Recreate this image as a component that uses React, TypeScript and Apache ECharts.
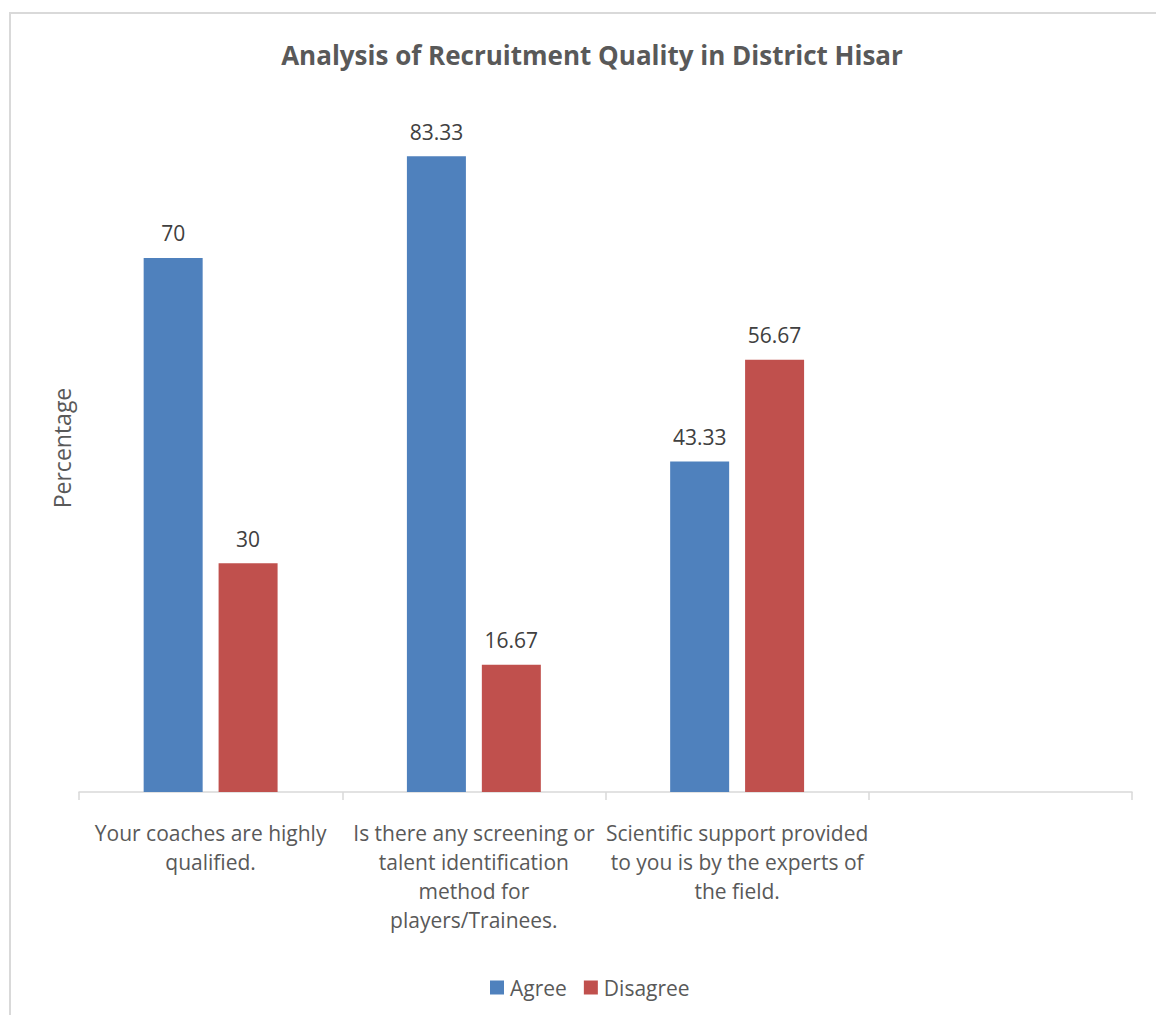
import React, { useEffect, useRef } from "react";
import * as echarts from "echarts";

const categories = [
  "Your coaches are highly\nqualified.",
  "Is there any screening or\ntalent identification\nmethod for\nplayers/Trainees.",
  "Scientific support provided\nto you is by the experts of\nthe field.",
  "",
];
const agreeValues = [70, 83.33, 43.33, null];
const disagreeValues = [30, 16.67, 56.67, null];
const seriesNames = ["Agree", "Disagree"];
const titleText = "Analysis of Recruitment Quality in District Hisar";
const yAxisTitle = "Percentage";

const FONT = "'Open Sans', 'Noto Sans', sans-serif";

export default function App() {
  const ref = useRef<HTMLDivElement>(null);
  useEffect(() => {
    if (!ref.current) return;
    const chart = echarts.init(ref.current, null, { renderer: "svg" });
    const label = {
      show: true,
      position: "top",
      distance: 14,
      color: "#404040",
      fontSize: 21,
      fontFamily: FONT,
      formatter: (p: any) => String(p.value),
    };
    chart.setOption({
      animation: false,
      backgroundColor: "#ffffff",
      textStyle: { fontFamily: FONT },
      title: {
        text: titleText,
        left: 587,
        top: 37,
        textAlign: "center",
        textStyle: { fontFamily: FONT, fontSize: 26, fontWeight: "bold", color: "#595959" },
      },
      graphic: [
        {
          type: "rect",
          shape: { x: 10, y: 13, width: 1200, height: 1100 },
          style: { fill: "none", stroke: "#D9D9D9", lineWidth: 2 },
          silent: true,
          z: -1,
        },
        {
          type: "text",
          x: 62,
          y: 448,
          rotation: Math.PI / 2,
          style: {
            text: yAxisTitle,
            fontFamily: FONT,
            fontSize: 23,
            fill: "#595959",
            align: "center",
            verticalAlign: "middle",
          },
        },
      ],
      legend: {
        data: seriesNames,
        left: 485,
        top: 972,
        orient: "horizontal",
        itemWidth: 14,
        itemHeight: 14,
        itemGap: 17,
        icon: "rect",
        textStyle: { fontFamily: FONT, fontSize: 21, color: "#595959", padding: [0, 0, 0, 1] },
      },
      grid: { left: 79, right: 24, top: 105.4, bottom: 1015 - 792, containLabel: false },
      xAxis: {
        type: "category",
        data: categories,
        axisLine: { show: true, lineStyle: { color: "#D9D9D9", width: 1.5 } },
        axisTick: { show: true, alignWithLabel: false, length: 8, lineStyle: { color: "#D9D9D9", width: 1.5 } },
        axisLabel: {
          interval: 0,
          margin: 26,
          fontFamily: FONT,
          fontSize: 21,
          lineHeight: 29,
          color: "#595959",
          align: "center",
        },
      },
      yAxis: {
        type: "value",
        min: 0,
        max: 90,
        interval: 10,
        show: false,
        splitLine: { show: false },
      },
      series: [
        {
          name: seriesNames[0],
          type: "bar",
          data: agreeValues,
          barWidth: 59,
          barGap: "27%",
          itemStyle: { color: "#4F81BD" },
          label,
        },
        {
          name: seriesNames[1],
          type: "bar",
          data: disagreeValues,
          barWidth: 59,
          itemStyle: { color: "#C0504D" },
          label,
        },
      ],
    });
    return () => chart.dispose();
  }, []);
  return <div ref={ref} style={{ width: 1156, height: 1015, position: "absolute", left: 0, top: 0 }} />;
}
